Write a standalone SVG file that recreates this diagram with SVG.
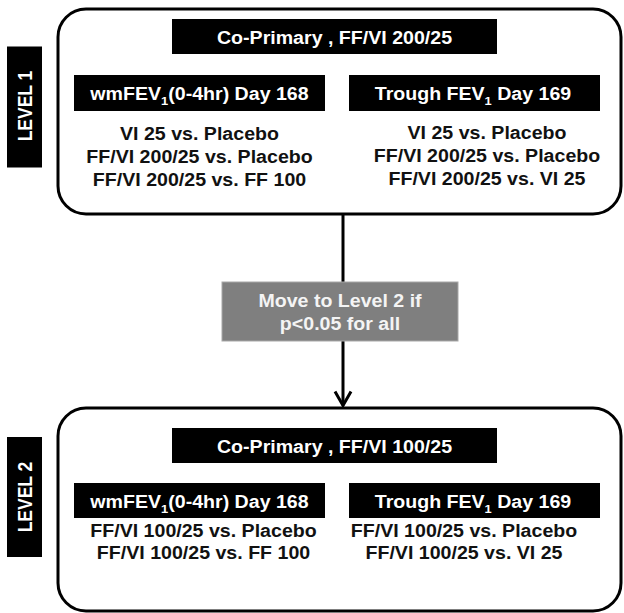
<svg xmlns="http://www.w3.org/2000/svg" width="624" height="613" viewBox="0 0 624 613">
<style>
.frame{fill:#fff;stroke:#000;stroke-width:3}
.bar{fill:#000}
.lab{fill:#000}
.t{font-family:"Liberation Sans",Arial,sans-serif;font-weight:bold;font-size:17.5px;text-anchor:middle}
.w{fill:#fff}
.k{fill:#111}
.g{fill:#f4f4f4}
.sub{font-size:11.5px}
.cond{fill:#7f7f7f;stroke:#a8a8a8;stroke-width:1}
.conn{fill:none;stroke:#000;stroke-width:3}
</style>
<defs>
<marker id="arrow" markerUnits="userSpaceOnUse" viewBox="-17 -10 19 20" markerWidth="19" markerHeight="20" refX="0" refY="0" orient="auto">
<path d="M-14,-8 L0,0 L-14,8" fill="none" stroke="#000" stroke-width="3" stroke-linejoin="miter"/>
</marker>
</defs>
<rect width="624" height="613" fill="#fff"/>

<g id="connectors">
<path class="conn" d="M343,214 V282"/>
<path class="conn" d="M343,341 V405.5" marker-end="url(#arrow)"/>
</g>

<g id="level1-label">
<rect class="lab" x="7" y="46.5" width="35" height="121"/>
<text class="t w" transform="translate(32,106) rotate(-90) scale(1,1.12)">LEVEL 1</text>
</g>

<g id="level1">
<rect class="frame" x="58" y="9" width="563" height="205" rx="28" ry="28"/>
<rect class="bar" x="172" y="19" width="325" height="35"/>
<text class="t w" transform="translate(334.5,43.5) scale(1.12,1)">Co-Primary , FF/VI 200/25</text>
<rect class="bar" x="74" y="75" width="251" height="36"/>
<text class="t w" transform="translate(199.5,100) scale(1.12,1)">wmFEV<tspan class="sub" dy="4.5">1</tspan><tspan dy="-4.5">(0-4hr) Day 168</tspan></text>
<rect class="bar" x="349" y="75" width="251" height="36"/>
<text class="t w" transform="translate(473,100) scale(1.12,1)">Trough FEV<tspan class="sub" dy="4.5">1</tspan><tspan dy="-4.5"> Day 169</tspan></text>
<text class="t k" transform="translate(199.5,139.5) scale(1.12,1)">VI 25 vs. Placebo</text>
<text class="t k" transform="translate(199.5,162.5) scale(1.12,1)">FF/VI 200/25 vs. Placebo</text>
<text class="t k" transform="translate(199.5,185.5) scale(1.12,1)">FF/VI 200/25 vs. FF 100</text>
<text class="t k" transform="translate(487,138.5) scale(1.12,1)">VI 25 vs. Placebo</text>
<text class="t k" transform="translate(487,161.5) scale(1.12,1)">FF/VI 200/25 vs. Placebo</text>
<text class="t k" transform="translate(487,184.5) scale(1.12,1)">FF/VI 200/25 vs. VI 25</text>
</g>

<g id="condition">
<rect class="cond" x="222" y="282" width="236" height="59"/>
<text class="t g" transform="translate(340,306.5) scale(1.12,1)">Move to Level 2 if</text>
<text class="t g" transform="translate(340,330) scale(1.12,1)">p&lt;0.05 for all</text>
</g>

<g id="level2-label">
<rect class="lab" x="7" y="437" width="35" height="120"/>
<text class="t w" transform="translate(32,497) rotate(-90) scale(1,1.12)">LEVEL 2</text>
</g>

<g id="level2">
<rect class="frame" x="58" y="408" width="563" height="203" rx="28" ry="28"/>
<rect class="bar" x="172" y="428" width="325" height="35"/>
<text class="t w" transform="translate(334.5,452.5) scale(1.12,1)">Co-Primary , FF/VI 100/25</text>
<rect class="bar" x="74" y="483" width="251" height="35"/>
<text class="t w" transform="translate(199.5,508) scale(1.12,1)">wmFEV<tspan class="sub" dy="4.5">1</tspan><tspan dy="-4.5">(0-4hr) Day 168</tspan></text>
<rect class="bar" x="349" y="483" width="251" height="35"/>
<text class="t w" transform="translate(473,508) scale(1.12,1)">Trough FEV<tspan class="sub" dy="4.5">1</tspan><tspan dy="-4.5"> Day 169</tspan></text>
<text class="t k" transform="translate(203.5,537) scale(1.12,1)">FF/VI 100/25 vs. Placebo</text>
<text class="t k" transform="translate(203.5,559) scale(1.12,1)">FF/VI 100/25 vs. FF 100</text>
<text class="t k" transform="translate(464,537) scale(1.12,1)">FF/VI 100/25 vs. Placebo</text>
<text class="t k" transform="translate(464,559) scale(1.12,1)">FF/VI 100/25 vs. VI 25</text>
</g>
</svg>
